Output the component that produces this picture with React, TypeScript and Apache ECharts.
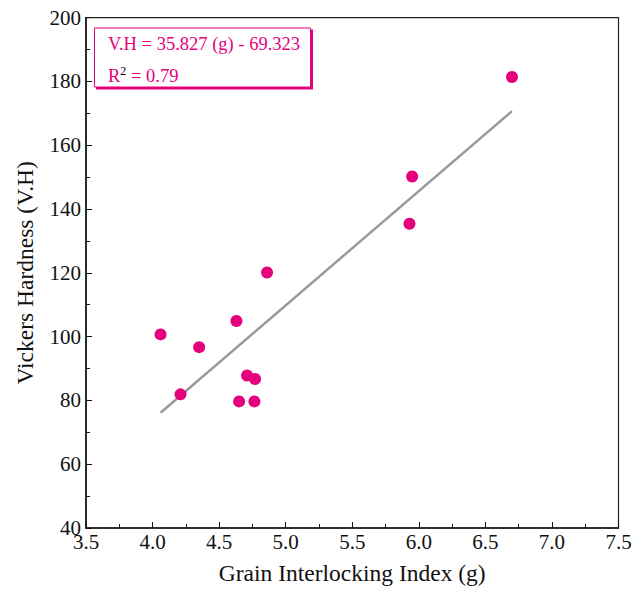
import React, { useEffect, useRef } from "react";
import * as echarts from "echarts";

const grainIndex = [4.06, 4.21, 4.35, 4.63, 4.65, 4.71, 4.77, 4.765, 4.86, 5.93, 5.95, 6.70];
const hardness = [100.7, 81.9, 96.7, 104.9, 79.7, 87.8, 86.7, 79.7, 120.1, 135.4, 150.2, 181.4];
const slope = 35.827;
const intercept = -69.323;
const equationText = "V.H = 35.827 (g) - 69.323";
const r2Text = "0.79";
const xTitle = "Grain Interlocking Index (g)";
const yTitle = "Vickers Hardness (V.H)";

const PINK = "#e5007d";
const FONT = "Liberation Serif";

export default function App() {
  const ref = useRef<HTMLDivElement>(null);
  useEffect(() => {
    const chart = echarts.init(ref.current!, null, { renderer: "svg" });
    const minX = Math.min(...grainIndex);
    const maxX = Math.max(...grainIndex);
    const fitLine = [
      [minX, slope * minX + intercept],
      [maxX, slope * maxX + intercept],
    ];
    chart.setOption({
      animation: false,
      backgroundColor: "#fff",
      grid: {
        left: 86,
        right: 25.5,
        top: 17.7,
        bottom: 59.3,
        show: true,
        borderColor: "#222",
        borderWidth: 1.2,
        backgroundColor: "transparent",
      },
      xAxis: {
        type: "value",
        min: 3.5,
        max: 7.5,
        interval: 0.5,
        name: xTitle,
        nameLocation: "middle",
        nameGap: 33,
        nameTextStyle: { fontFamily: FONT, fontSize: 23.5, color: "#111" },
        axisLine: { show: true, lineStyle: { color: "#111", width: 1.5 } },
        axisTick: { show: true, inside: true, length: 6, lineStyle: { color: "#111" } },
        minorTick: { show: true, splitNumber: 2, length: 4, lineStyle: { color: "#111" } },
        splitLine: { show: false },
        axisLabel: {
          fontFamily: FONT,
          fontSize: 21,
          color: "#111",
          margin: 3,
          formatter: (v: number) => v.toFixed(1),
        },
      },
      yAxis: {
        type: "value",
        min: 40,
        max: 200,
        interval: 20,
        name: yTitle,
        nameLocation: "middle",
        nameGap: 49,
        nameTextStyle: { fontFamily: FONT, fontSize: 23.5, color: "#111" },
        axisLine: { show: true, lineStyle: { color: "#111", width: 1.5 } },
        axisTick: { show: true, inside: true, length: 6, lineStyle: { color: "#111" } },
        minorTick: { show: true, splitNumber: 2, length: 4, lineStyle: { color: "#111" } },
        splitLine: { show: false },
        axisLabel: { fontFamily: FONT, fontSize: 21, color: "#111", margin: 5 },
      },
      series: [
        {
          type: "line",
          data: fitLine,
          symbol: "none",
          lineStyle: { color: "#9a9a9a", width: 2.5 },
          z: 2,
        },
        {
          type: "scatter",
          data: grainIndex.map((g, i) => [g, hardness[i]]),
          symbol: "circle",
          symbolSize: 12,
          itemStyle: { color: PINK, opacity: 1 },
          z: 3,
        },
      ],
      graphic: [
        {
          type: "rect",
          shape: { x: 96, y: 29.5, width: 217, height: 60 },
          style: { fill: PINK },
          z: 10,
        },
        {
          type: "rect",
          shape: { x: 94.5, y: 28, width: 216, height: 59 },
          style: { fill: "#fff", stroke: PINK, lineWidth: 1 },
          z: 11,
        },
        {
          type: "text",
          x: 108,
          y: 43.5,
          style: {
            text: equationText,
            fontFamily: FONT,
            fontSize: 18.5,
            fill: PINK,
            verticalAlign: "middle",
          },
          z: 12,
        },
        {
          type: "text",
          x: 108,
          y: 75.5,
          style: {
            text: "{b|R}{s|2}{b| = " + r2Text + "}",
            verticalAlign: "middle",
            rich: {
              b: { fontFamily: FONT, fontSize: 18.5, fill: PINK, color: PINK },
              s: { fontFamily: FONT, fontSize: 12, color: PINK, verticalAlign: "top", padding: [0, 0, 10, 0] },
            },
          },
          z: 12,
        },
      ],
    });
    return () => chart.dispose();
  }, []);
  return (
    <div
      ref={ref}
      style={{ position: "fixed", left: 0, top: 0, width: 644, height: 590, background: "#fff" }}
    />
  );
}
